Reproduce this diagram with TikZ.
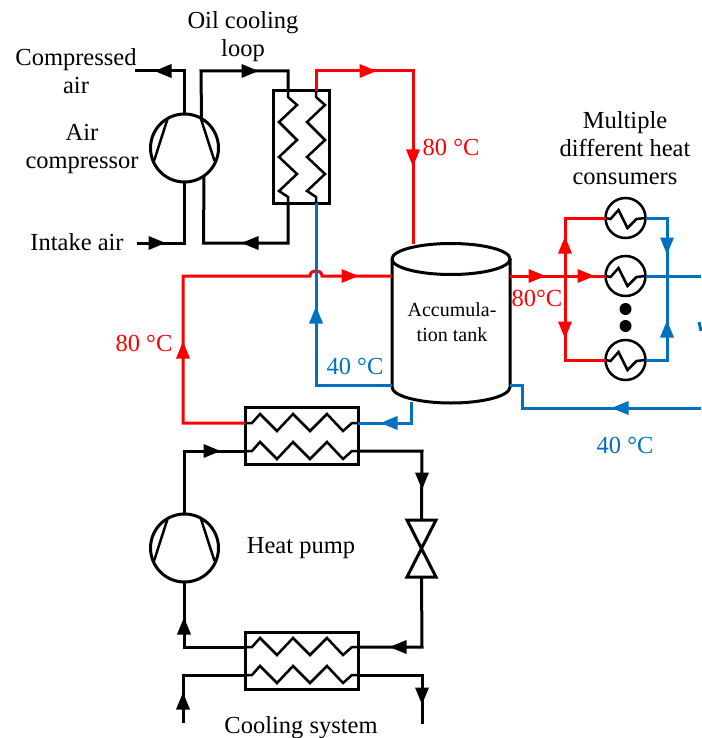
\documentclass[tikz,border=0pt]{standalone}
\usepackage{fontspec}
\setmainfont{Liberation Serif}
\usetikzlibrary{positioning,calc}
\definecolor{hotred}{RGB}{255,0,0}
\definecolor{coldblue}{RGB}{0,112,192}
\tikzset{
  lbl/.style={align=center,inner sep=0pt,font=\fontsize{24.5}{28}\selectfont},
  pipe/.style={line width=3pt,line join=miter},
  hot/.style={pipe,hotred},
  cold/.style={pipe,coldblue},
  coil/.style={line width=2.5pt},
  compressor/.style={circle,draw,line width=3pt,minimum size=68pt,inner sep=0pt,outer sep=0pt},
  exch/.style={rectangle,draw,line width=3pt,inner sep=0pt,outer sep=0pt},
  consumer/.style={circle,draw,line width=2.5pt,minimum size=40pt,inner sep=0pt,outer sep=0pt}
}
\begin{document}
\begin{tikzpicture}[x=1pt,y=-1pt]
  \useasboundingbox (0,0) rectangle (701,738);
  % equipment
  \node[compressor] (aircomp) at (184.5,148) {};
  \node[compressor] (hpcomp) at (184.5,548) {};
  \node[exch,minimum width=56pt,minimum height=112pt] (oilhx) at (301,147) {};
  \node[exch,minimum width=113pt,minimum height=57pt] (hothx) at (301.5,435.5) {};
  \node[exch,minimum width=113pt,minimum height=57pt] (coldhx) at (301.5,660.5) {};
  \node[consumer] (consa) at (625.5,218) {};
  \node[consumer] (consb) at (625.5,276) {};
  \node[consumer] (consc) at (625.5,360) {};
  \node[minimum width=118pt,minimum height=128pt,inner sep=0pt,align=center,font=\fontsize{20}{25}\selectfont] (tank) at (452,322) {Accumula-\\tion tank};
  % tank body
  \draw[pipe] (392,387) -- (392,259) arc[start angle=180,end angle=540,x radius=59,y radius=15.5];
  \draw[pipe] (510,259) -- (510,387) arc[start angle=0,end angle=180,x radius=59,y radius=16];
  % compressor blades
  \foreach \cy in {148,548}{
    \draw[coil] (167.5,\cy-29) -- (154,\cy+13);
    \draw[coil] (201,\cy-29) -- (214.5,\cy+13);
  }
  % coils
  \foreach \cx in {288,316}
    \draw[coil] (\cx,91) -- ++(0,6) -- ++(9,8) -- ++(-18,17) -- ++(18,18) -- ++(-18,17) -- ++(18,17) -- ++(-18,17) -- ++(9,6) -- ++(0,6);
  \foreach \cy in {423,451,647,675}
    \draw[coil] (245,\cy) -- ++(7,0) -- ++(8,-9) -- ++(17,17) -- ++(16,-17) -- ++(17,17) -- ++(17,-17) -- ++(16,17) -- ++(9,-8) -- ++(6,0);
  \foreach \cons in {consa,consb,consc}
    \draw[coil] (\cons.west) -- ++(5,1) -- ++(8,-9) -- ++(9,18) -- ++(9,-9) -- (\cons.east);
  % free ends and corners
  \coordinate (airout) at (135,71);
  \coordinate (airin) at (137,243);
  \coordinate (oiltop) at (288,91);
  \coordinate (oilbot) at (288,203);
  \coordinate (wattop) at (316,91);
  \coordinate (watbot) at (316,203);
  \coordinate (tankA) at (392,276);
  \coordinate (tankB) at (392,385);
  \coordinate (tankC) at (411,402);
  \coordinate (tankD) at (510,276);
  \coordinate (tankE) at (510,385);
  \coordinate (tankF) at (413,244);
  \coordinate (rightB) at (701,276);
  \coordinate (rightE) at (701,408);
  \coordinate (coolin) at (183,723);
  \coordinate (coolout) at (422,724);
  \node[inner sep=0pt,minimum width=29pt,minimum height=57pt] (valve) at (421.5,548.5) {};
  % air and oil
  \draw[pipe] (aircomp.north) -- (184.5,71) -- (airout);
  \draw[pipe] (aircomp.south) -- (184.5,243) -- (airin);
  \draw[pipe] (aircomp.60) -- (201,71) -- (288,71) -- (oiltop);
  \draw[pipe] (aircomp.-55) -- (203.5,243) -- (288,243) -- (oilbot);
  % water, hot side
  \draw[hot] (wattop) -- (316,71) -- (413,71) -- (tankF);
  \draw[hot] (hothx.west |- 0,423) -- (183,423) -- (183,276) -- (310,276) .. controls (310,269) and (322,269) .. (322,276) -- (tankA);
  \draw[hot] (tankD) -- (consb.west);
  \draw[hot] (consa.west) -- (565,218) -- (565,360) -- (consc.west);
  % water, cold side
  \draw[cold] (watbot) -- (316,385) -- (tankB);
  \draw[cold] (tankC) -- (411,423) -- (hothx.east |- 0,423);
  \draw[cold] (tankE) -- (522,385) -- (522,408) -- (rightE);
  \draw[cold] (consa.east) -- (667,218) -- (667,360) -- (consc.east);
  \draw[cold] (consb.east) -- (rightB);
  \draw[cold] (699,322) -- (701,331);
  % heat pump
  \draw[pipe] (hpcomp.north) -- (184.5,451) -- (hothx.west |- 0,451);
  \draw[pipe] (hothx.east |- 0,451) -- (422,451) -- (valve.north);
  \draw[pipe] (valve.south) -- (422,647) -- (coldhx.east |- 0,647);
  \draw[pipe] (coldhx.west |- 0,647) -- (184.5,647) -- (hpcomp.south);
  \draw[pipe] (coolin) -- (183,675) -- (coldhx.west |- 0,675);
  \draw[pipe] (coldhx.east |- 0,675) -- (422,675) -- (coolout);
  \draw[pipe] (407,520) -- (436,520) -- (407,577) -- (436,577) -- cycle;
  % arrowheads
  \foreach \px/\py/\ang/\col in {163/71/180/black,250/71/0/black,157/243/0/black,250/243/180/black,
    368/71/0/hotred,413/158/-90/hotred,183/350/90/hotred,350/276/0/hotred,537/276/0/hotred,586/276/0/hotred,
    565/245/90/hotred,565/330/-90/hotred,316/315/90/coldblue,667/246/-90/coldblue,667/329/90/coldblue,
    620/408/180/coldblue,389/423/180/coldblue,212/451/0/black,422/481/-90/black,398/647/180/black,
    184/626/90/black,183/701/90/black,422/696/-90/black}
    \fill[\col,shift={(\px,\py)},rotate=\ang] (8.5,0) -- (-8.5,7) -- (-8.5,-7) -- cycle;
  % dots
  \fill (625.5,309) circle[radius=6];
  \fill (625.5,326) circle[radius=6];
  % labels
  \node[lbl] (lbloil) at (243,37) {Oil cooling\\loop};
  \node[lbl] (lblout) at (76,71) {Compressed\\air};
  \node[lbl] (lblcomp) at (82,149) {Air\\compressor};
  \node[lbl] (lblin) at (77,242) {Intake air};
  \node[lbl] (lblcons) at (625,148) {Multiple\\different heat\\consumers};
  \node[lbl,hotred] (lblhota) at (451,147) {80 °C};
  \node[lbl,hotred] (lblhotb) at (144,343) {80 °C};
  \node[lbl,hotred] (lblhotc) at (537,298) {80°C};
  \node[lbl,coldblue] (lblcolda) at (355,366) {40 °C};
  \node[lbl,coldblue] (lblcoldb) at (625,445) {40 °C};
  \node[lbl] (lblhp) at (301,548) {Heat pump};
  \node[lbl] (lblcool) at (301,728) {Cooling system};
\end{tikzpicture}
\end{document}
